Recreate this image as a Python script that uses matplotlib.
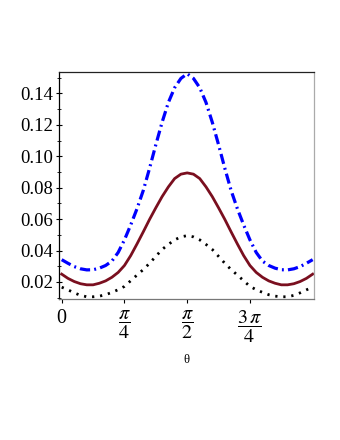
import numpy as np
import matplotlib
matplotlib.use('Agg')
import matplotlib.pyplot as plt

plt.rcParams['font.family'] = ['Liberation Serif', 'DejaVu Serif']
plt.rcParams['mathtext.fontset'] = 'stix'

# theta sampled at k*pi/40, k = 0..40
theta = np.arange(41) * np.pi / 40

blue = [0.0342, 0.0319, 0.0298, 0.0284, 0.0277, 0.0278, 0.0288, 0.0305, 0.0333, 0.0388,
        0.0468, 0.0563, 0.0666, 0.0782, 0.0923, 0.1073, 0.1216, 0.1342, 0.1436, 0.1495,
        0.1525,
        0.1495, 0.1436, 0.1342, 0.1216, 0.1073, 0.0923, 0.0782, 0.0666, 0.0563, 0.0468,
        0.0388, 0.0333, 0.0305, 0.0288, 0.0278, 0.0277, 0.0284, 0.0298, 0.0319, 0.0342]
red = [0.0250, 0.0223, 0.0203, 0.0189, 0.0182, 0.0182, 0.0192, 0.0207, 0.0230, 0.0261,
       0.0305, 0.0368, 0.0442, 0.0519, 0.0598, 0.0672, 0.0743, 0.0805, 0.0858, 0.0886,
       0.0894,
       0.0886, 0.0858, 0.0805, 0.0743, 0.0672, 0.0598, 0.0519, 0.0442, 0.0368, 0.0305,
       0.0261, 0.0230, 0.0207, 0.0192, 0.0182, 0.0182, 0.0189, 0.0203, 0.0223, 0.0250]
black = [0.0167, 0.0150, 0.0131, 0.0115, 0.0106, 0.0106, 0.0110, 0.0119, 0.0134, 0.0151,
         0.0172, 0.0208, 0.0244, 0.0279, 0.0319, 0.0363, 0.0407, 0.0439, 0.0468, 0.0487,
         0.0495,
         0.0487, 0.0468, 0.0439, 0.0407, 0.0363, 0.0319, 0.0279, 0.0244, 0.0208, 0.0172,
         0.0151, 0.0134, 0.0119, 0.0110, 0.0106, 0.0106, 0.0115, 0.0131, 0.0150, 0.0167]

xticks = [0, np.pi / 4, np.pi / 2, 3 * np.pi / 4]
xticklabels = ['0', r'$\dfrac{\pi}{4}$', r'$\dfrac{\pi}{2}$', r'$\dfrac{3\,\pi}{4}$']
yticks = [0.02, 0.04, 0.06, 0.08, 0.10, 0.12, 0.14]

fig = plt.figure(figsize=(3.4, 4.4), dpi=100)
ax = fig.add_axes([0.175, 0.3198, 0.7485, 0.5166])

ax.plot(theta, blue, color='#0000ff', lw=2.3, linestyle=(0, (3.2, 1.3, 0.6, 1.3)))
ax.plot(theta, red, color='#7a0f1f', lw=2.0)
ax.plot(theta, black, color='black', lw=2.0, linestyle=(0, (0.8, 2.1)))

ax.set_xlim(-0.0275, 3.158)
ax.set_ylim(0.009, 0.1536)

ax.set_xticks(xticks)
ax.set_xticklabels(xticklabels, fontsize=14.5)
ax.set_yticks(yticks)
ax.set_yticklabels(['%.2f' % v for v in yticks], fontsize=13.5)
ax.set_yticks(np.arange(0.01, 0.155, 0.01), minor=True)

ax.tick_params(axis='y', direction='inout', length=5, width=0.8, pad=2)
ax.tick_params(axis='y', which='minor', direction='inout', length=3, width=0.6)
ax.tick_params(axis='x', direction='out', length=3, width=0.8, pad=4)

ax.spines['left'].set_color('black')
ax.spines['bottom'].set_color('#777777')
ax.spines['top'].set_color('#222222')
ax.spines['right'].set_color('#aaaaaa')
for s in ax.spines.values():
    s.set_linewidth(0.9)

ax.set_xlabel('\u03b8', fontsize=9, labelpad=6)

fig.savefig('out.png', dpi=100)
